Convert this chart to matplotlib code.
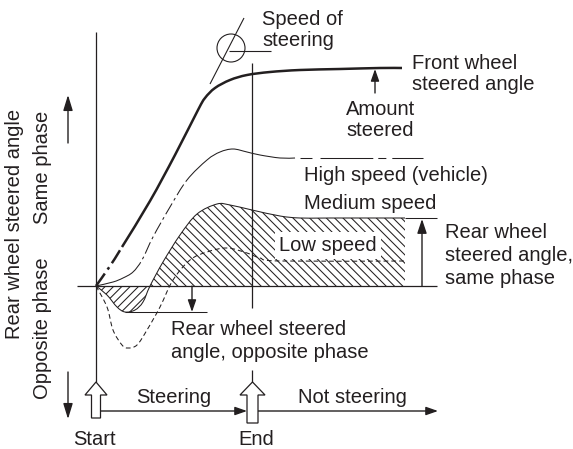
import numpy as np
import matplotlib
matplotlib.use("Agg")
import matplotlib.pyplot as plt
from matplotlib.path import Path
from matplotlib.patches import PathPatch, Circle, FancyArrow

# ---- fonts / style ----
plt.rcParams['font.family'] = ['Liberation Sans', 'DejaVu Sans']
plt.rcParams['lines.scale_dashes'] = False
plt.rcParams['hatch.linewidth'] = 0.75
ink = '#231f20'
fs = 14.5

# ---- diagram data (diagram units, y grows downward) ----
zero_y = 286          # level of zero rear-wheel angle
x_start = 96          # steering starts
x_end = 252           # steering ends

# front wheel steered angle (thick)
front_x = [96, 110, 122, 150, 175, 198, 205, 215, 230, 247, 270, 300, 340, 380, 402]
front_y = [286, 266, 247, 201, 155, 110, 98, 88, 80, 75, 72, 70, 69, 68, 68]

# rear wheel, high vehicle speed
high_x = [96, 113, 123, 133, 142, 153, 170, 187, 207, 220, 233, 247, 260, 280, 295]
high_y = [286, 282, 278, 272, 260, 237, 207, 180, 160, 152, 149, 152, 155, 158, 158]
high_tail_end = 423

# rear wheel, medium speed (hatched)
med_x = [96, 107, 117, 125, 135, 143, 150, 163, 180, 197, 217, 230, 252, 280, 300, 330, 405]
med_y = [286, 295, 307, 312, 310, 302, 286, 262, 235, 214, 204, 205, 210, 216, 218, 218, 218]
med_cross = 6          # index where the curve crosses zero

# rear wheel, low speed (dashed)
low_x = [96, 107, 113, 122, 128, 137, 147, 160, 173, 190, 207, 227, 247, 260, 280, 405]
low_y = [286, 307, 330, 345, 348, 345, 330, 307, 280, 260, 252, 248, 253, 258, 261, 261]

opp_level = 312        # deepest opposite-phase angle, medium speed


def bezier(xs, ys, i0, i1, move=True):
    """Catmull-Rom curve through points i0..i1 as cubic Bezier segments."""
    p = np.column_stack([xs, ys]).astype(float)
    n = len(p)
    verts, codes = [], []
    if move:
        verts.append(p[i0]); codes.append(Path.MOVETO)
    for i in range(i0, i1):
        p0 = p[i - 1] if i > 0 else p[i]
        p3 = p[i + 2] if i + 2 < n else p[i + 1]
        c1 = p[i] + (p[i + 1] - p0) / 6
        c2 = p[i + 1] - (p3 - p[i]) / 6
        verts += [c1, c2, p[i + 1]]
        codes += [Path.CURVE4] * 3
    return verts, codes


def curve(ax, xs, ys, i0, i1, **kw):
    v, c = bezier(xs, ys, i0, i1)
    ax.add_patch(PathPatch(Path(v, c), fill=False, edgecolor=ink,
                           capstyle='butt', **kw))


def hatched(ax, xs, ys, i0, i1, hatch):
    v, c = bezier(xs, ys, i0, i1)
    v += [(xs[i1], zero_y), (xs[i0], zero_y), (xs[i0], zero_y)]
    c += [Path.LINETO, Path.LINETO, Path.CLOSEPOLY]
    ax.add_patch(PathPatch(Path(v, c), facecolor='none', edgecolor=ink,
                           linewidth=0, hatch=hatch, zorder=1))


def arrow(ax, x0, y0, x1, y1, hl=10, hw=7, lw=1.0):
    ax.annotate('', xy=(x1, y1), xytext=(x0, y0),
                arrowprops=dict(arrowstyle=f'-|>,head_length={hl * 0.072:.3f},'
                                           f'head_width={hw / 2 * 0.072:.3f}',
                                mutation_scale=10, lw=lw, color=ink,
                                shrinkA=0, shrinkB=0))


def line(ax, xs, ys, lw=1.0, **kw):
    ax.plot(xs, ys, color=ink, lw=lw, solid_capstyle='butt', **kw)


fig = plt.figure(figsize=(5.73, 4.49), dpi=100, facecolor='white')
ax = fig.add_axes([0, 0, 1, 1])
ax.set_xlim(0, 573)
ax.set_ylim(449, 0)
ax.axis('off')

# axes of the diagram
line(ax, [x_start, x_start], [32, 382], lw=0.9)
line(ax, [77, 437], [zero_y, zero_y], lw=0.9)
line(ax, [x_end, x_end], [63, 308], lw=0.9)
line(ax, [x_end, x_end], [370, 382], lw=0.9)

# hatched medium-speed band
hatched(ax, med_x, med_y, 0, med_cross, '////')
hatched(ax, med_x, med_y, med_cross, len(med_x) - 1, '\\\\\\\\')

# front wheel angle
thick = 1.8
curve(ax, front_x, front_y, 0, 2, linewidth=thick,
      linestyle=(0, (11, 3.5, 2, 3.5)))
curve(ax, front_x, front_y, 2, len(front_x) - 1, linewidth=thick)

# high speed
thin = 0.75
curve(ax, high_x, high_y, 0, 3, linewidth=thin)
curve(ax, high_x, high_y, 3, 7, linewidth=thin, linestyle=(0, (9, 2.5, 2, 2.5)))
curve(ax, high_x, high_y, 7, len(high_x) - 1, linewidth=thin)
ax.plot([high_x[-1], high_tail_end], [high_y[-1], high_y[-1]], color=ink, lw=thin,
        dashes=(0.01, 3.6, 8.6, 5.8, 38, 3.6, 5.8, 4.3, 23), solid_capstyle='butt')

# medium speed outline and reference lines
curve(ax, med_x, med_y, 0, len(med_x) - 1, linewidth=thin, zorder=3)
line(ax, [med_x[-1], 437], [med_y[-1], med_y[-1]], lw=thin)
line(ax, [med_x[3], 207], [opp_level, opp_level], lw=thin)

# low speed
curve(ax, low_x, low_y, 0, len(low_x) - 1, linewidth=thin,
      linestyle=(0, (3.4, 2.2)), zorder=4)

# speed of steering marker
ax.add_patch(Circle((231, 48), 14, fill=False, edgecolor=ink, lw=0.8))
line(ax, [210, 244], [84, 18], lw=0.8)
line(ax, [229, 271], [51, 51], lw=0.8)

# arrows
arrow(ax, 375, 93, 375, front_y[-1] + 1)
arrow(ax, 422, zero_y, 422, med_y[-1] + 1, hl=12, hw=8)
arrow(ax, 192, zero_y, 192, opp_level, hl=10, hw=7)
arrow(ax, 68, 143, 68, 95, hl=13, hw=8)
arrow(ax, 68, 372, 68, 419, hl=13, hw=8)
arrow(ax, 101, 411, 247, 411, hl=10, hw=7)
arrow(ax, 258, 411, 438, 411, hl=10, hw=7)

# hollow start / end markers
ax.add_patch(FancyArrow(x_start, 418, 0, -36, width=9, head_width=22,
                        head_length=13, length_includes_head=True,
                        facecolor='white', edgecolor=ink, lw=0.9, zorder=5))
ax.add_patch(FancyArrow(x_end + 0.5, 423, 0, -41, width=11, head_width=25,
                        head_length=13, length_includes_head=True,
                        facecolor='white', edgecolor=ink, lw=0.9, zorder=5))

# labels (y is the baseline of the last line)
kw = dict(fontsize=fs, color=ink, va='baseline', linespacing=1.15)
ax.text(262, 46, 'Speed of\nsteering', **kw)
ax.text(412, 90, 'Front wheel\nsteered angle', **kw)
ax.text(346, 136, 'Amount\nsteered', **kw)
ax.text(304, 181, 'High speed (vehicle)', **kw)
ax.text(304, 209, 'Medium speed', **kw)
ax.text(279, 251, 'Low speed', zorder=3,
        bbox=dict(boxstyle='square,pad=0.2', facecolor='white', edgecolor='none'), **kw)
kw['linespacing'] = 1.28
ax.text(445, 284, 'Rear wheel\nsteered angle,\nsame phase', **kw)
ax.text(171, 358, 'Rear wheel steered\nangle, opposite phase', **kw)
kw['linespacing'] = 1.15
ax.text(136, 403, 'Steering', **kw)
ax.text(298, 403, 'Not steering', **kw)
ax.text(94, 445, 'Start', ha='center', **kw)
ax.text(256, 445, 'End', ha='center', **kw)

rkw = dict(fontsize=fs, color=ink, rotation=90, ha='center', va='center')
ax.text(15, 224, 'Rear wheel steered angle', **rkw)
ax.text(43, 167, 'Same phase', **rkw)
ax.text(43, 328, 'Opposite phase', **rkw)

fig.savefig('out.png', dpi=100, facecolor='white')
